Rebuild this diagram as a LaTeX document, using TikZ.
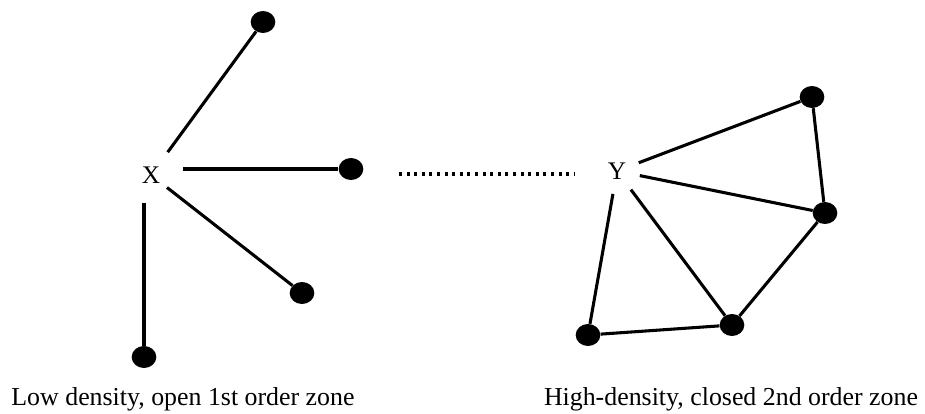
\documentclass[tikz,border=0pt]{standalone}
\usepackage{fontspec}
\setmainfont{Liberation Serif}
\usetikzlibrary{shapes.geometric}
\begin{document}
\begin{tikzpicture}[x=0.75pt,y=-0.75pt,
  dot/.style={ellipse,fill=black,draw=none,minimum width=18.5pt,minimum height=16.5pt,inner sep=0pt},
  hub/.style={circle,inner sep=0pt,font=\fontsize{19}{22}\selectfont},
  tie/.style={line width=2.3pt},
  caption/.style={font=\fontsize{19.4}{23}\selectfont,inner sep=0pt}]
\useasboundingbox (0,0) rectangle (925,414);

% first order zone: star around X
\node[hub,minimum size=56pt*0.75] (X) at (151,175) {X};
\node[dot] (x1) at (263,22) {};
\node[dot] (x2) at (351,169) {};
\node[dot] (x3) at (302,293) {};
\node[dot] (x4) at (144,357) {};
\draw[tie] (X) -- (x1);
\draw[tie,shorten <=3pt] (X.east |- x2) -- (x2);
\draw[tie,shorten <=-6pt] (X) -- (x3);
\draw[tie] (X.south -| x4) -- (x4);

% link between the two zones
\node[inner sep=0pt] (dl) at (398,174) {};
\node[inner sep=0pt] (dr) at (575,174) {};
\draw[line width=2.3pt,dash pattern=on 2.3pt off 3.4pt] (dl) -- (dr);

% second order zone: closed mesh around Y
\node[hub,minimum size=46pt*0.75] (Y) at (617,171) {Y};
\node[dot] (y1) at (812,97) {};
\node[dot] (y2) at (825,213) {};
\node[dot] (y3) at (732,325) {};
\node[dot] (y4) at (588,335) {};
\draw[tie] (Y) -- (y1);
\draw[tie] (Y) -- (y2);
\draw[tie] (Y) -- (y3);
\draw[tie] (Y) -- (y4);
\draw[tie] (y1) -- (y2) -- (y3) -- (y4);

% captions
\node[caption] (c1) at (183,399) {Low density, open 1st order zone};
\node[caption] (c2) at (731,399) {High-density, closed 2nd order zone};
\end{tikzpicture}
\end{document}
